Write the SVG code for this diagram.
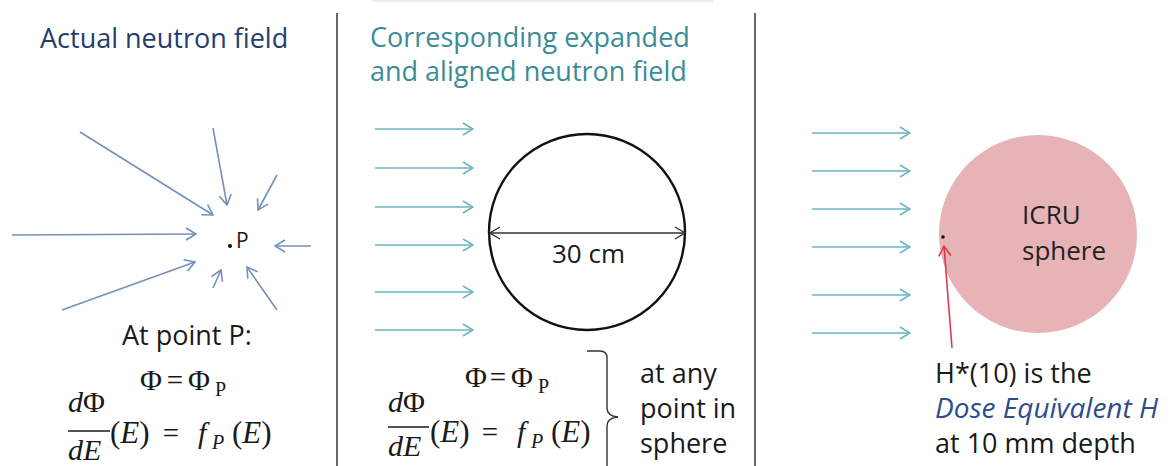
<svg xmlns="http://www.w3.org/2000/svg" width="1176" height="466" viewBox="0 0 1176 466">
<style>
.t{font-family:"Open Sans","Liberation Sans",sans-serif;font-size:27px;fill:#1a1a1a}
.m{font-family:"Liberation Serif","DejaVu Serif",serif;font-size:28px;fill:#1a1a1a}
.ph{font-size:30px}
.pr{font-size:31px}
.eq{font-family:"Liberation Serif","DejaVu Serif",serif;font-size:29px;fill:#1a1a1a}
.i{font-style:italic}
.sub{font-size:20px}
.ab{stroke:#7391b8;stroke-width:1.6;fill:none;marker-end:url(#hb)}
.at{stroke:#6cb5c2;stroke-width:1.6;fill:none;marker-end:url(#ht)}
.div{stroke:#444;stroke-width:1.6}
</style>
<defs>
<marker id="hb" viewBox="0 0 12 14" refX="11" refY="7" markerWidth="12" markerHeight="14" markerUnits="userSpaceOnUse" orient="auto"><path d="M1,1 L11,7 L1,13" fill="none" stroke="#7391b8" stroke-width="1.6"/></marker>
<marker id="ht" viewBox="0 0 12 14" refX="11" refY="7" markerWidth="12" markerHeight="14" markerUnits="userSpaceOnUse" orient="auto"><path d="M1,1 L11,7 L1,13" fill="none" stroke="#6cb5c2" stroke-width="1.6"/></marker>
<marker id="hk" viewBox="0 0 12 14" refX="11" refY="7" markerWidth="12" markerHeight="14" markerUnits="userSpaceOnUse" orient="auto-start-reverse"><path d="M1,1 L11,7 L1,13" fill="none" stroke="#333" stroke-width="1.4"/></marker>
<marker id="hr" viewBox="0 0 12 14" refX="11" refY="7" markerWidth="12" markerHeight="14" markerUnits="userSpaceOnUse" orient="auto"><path d="M1,1 L11,7 L1,13" fill="none" stroke="#e0394c" stroke-width="1.6"/></marker>
</defs>
<rect width="1176" height="466" fill="#fff"/>
<rect x="372" y="0" width="341" height="2" fill="#ececec"/>
<line class="div" x1="337" y1="13" x2="337" y2="466"/>
<line class="div" x1="755" y1="13" x2="755" y2="466"/>

<g id="titles">
<text class="t" x="40" y="48" style="fill:#263d6b">Actual neutron field</text>
<text class="t" x="370" y="47" style="fill:#3b8c96">Corresponding expanded</text>
<text class="t" x="370" y="81" style="fill:#3b8c96">and aligned neutron field</text>
</g>

<g id="pointP">
<circle cx="230" cy="246" r="2" fill="#111"/>
<text class="t" x="236" y="248" style="font-size:21px">P</text>
</g>

<g id="leftMath">
<text class="t" x="122" y="345">At point P:</text>
<text class="m ph" x="140" y="390">Φ</text>
<text class="eq" x="175" y="390" text-anchor="middle">=</text>
<text class="m ph" x="188" y="390">Φ</text>
<text class="m sub" x="215" y="396">P</text>
<text class="m" x="68" y="412" style="font-size:30px"><tspan class="i">d</tspan>Φ</text>
<line x1="68" y1="431" x2="110" y2="431" stroke="#1a1a1a" stroke-width="1.5"/>
<text class="m i" x="68" y="460" style="font-size:30px">dE</text>
<text class="m pr" x="110" y="443">(<tspan class="i">E</tspan>)</text>
<text class="eq" x="171" y="443" text-anchor="middle">=</text>
<text class="m i" x="198" y="443" style="font-size:30px">f</text>
<text class="m i sub" x="212" y="449">P</text>
<text class="m pr" x="232" y="443">(<tspan class="i">E</tspan>)</text>
</g>

<g id="sphere30">
<circle cx="587" cy="232" r="98" fill="none" stroke="#111" stroke-width="2.4"/>
<line x1="490" y1="233" x2="685" y2="233" stroke="#333" stroke-width="1.4" marker-start="url(#hk)" marker-end="url(#hk)"/>
<text class="t" x="552" y="263" style="font-size:26px">30 cm</text>
</g>

<g id="midMath">
<text class="m ph" x="465" y="387">Φ</text>
<text class="eq" x="498" y="387" text-anchor="middle">=</text>
<text class="m ph" x="511" y="387">Φ</text>
<text class="m sub" x="538" y="393">P</text>
<text class="m" x="388" y="412" style="font-size:30px"><tspan class="i">d</tspan>Φ</text>
<line x1="388" y1="427" x2="429" y2="427" stroke="#1a1a1a" stroke-width="1.5"/>
<text class="m i" x="388" y="456" style="font-size:30px">dE</text>
<text class="m pr" x="430" y="442">(<tspan class="i">E</tspan>)</text>
<text class="eq" x="490" y="442" text-anchor="middle">=</text>
<text class="m i" x="517" y="442" style="font-size:30px">f</text>
<text class="m i sub" x="531" y="448">P</text>
<text class="m pr" x="551" y="442">(<tspan class="i">E</tspan>)</text>
<path d="M587,351 L600,351 Q607,351 607,358 L607,408 Q607,416 618,417 Q607,418 607,426 L607,470" fill="none" stroke="#333" stroke-width="1.4"/>
<text class="t" x="640" y="383">at any</text>
<text class="t" x="640" y="418">point in</text>
<text class="t" x="640" y="453">sphere</text>
</g>

<g id="icru">
<circle cx="1038" cy="234" r="99" fill="#e6b4b7"/>
<text class="t" x="1022" y="224" style="font-size:26px;fill:#222">ICRU</text>
<text class="t" x="1022" y="260" style="font-size:26px;fill:#222">sphere</text>
<circle cx="943" cy="237" r="1.8" fill="#111"/>
</g>

<g id="rightText">
<text class="t" x="935" y="383">H*(10) is the</text>
<text class="t i" x="935" y="418" style="font-size:28px;fill:#2e4d8a">Dose Equivalent H</text>
<text class="t" x="935" y="453">at 10 mm depth</text>
</g>

<g id="connectors">
<line class="ab" x1="80" y1="132" x2="213" y2="215"/>
<line class="ab" x1="213" y1="128" x2="227" y2="205"/>
<line class="ab" x1="277" y1="175" x2="258" y2="210"/>
<line class="ab" x1="12" y1="235" x2="196" y2="234"/>
<line class="ab" x1="311" y1="246" x2="275" y2="246"/>
<line class="ab" x1="62" y1="310" x2="195" y2="262"/>
<line class="ab" x1="213" y1="288" x2="221" y2="270"/>
<line class="ab" x1="277" y1="310" x2="247" y2="267"/>

<line class="at" x1="375" y1="129" x2="473" y2="129"/>
<line class="at" x1="375" y1="168" x2="473" y2="168"/>
<line class="at" x1="375" y1="207" x2="473" y2="207"/>
<line class="at" x1="375" y1="245" x2="473" y2="245"/>
<line class="at" x1="375" y1="292" x2="473" y2="292"/>
<line class="at" x1="375" y1="330" x2="473" y2="330"/>

<line class="at" x1="812" y1="133" x2="910" y2="133"/>
<line class="at" x1="812" y1="171" x2="910" y2="171"/>
<line class="at" x1="812" y1="209" x2="910" y2="209"/>
<line class="at" x1="812" y1="247" x2="910" y2="247"/>
<line class="at" x1="812" y1="295" x2="910" y2="295"/>
<line class="at" x1="812" y1="333" x2="910" y2="333"/>

<line x1="952" y1="348" x2="944" y2="246" stroke="#e0394c" stroke-width="1.6" marker-end="url(#hr)"/>
</g>
</svg>
